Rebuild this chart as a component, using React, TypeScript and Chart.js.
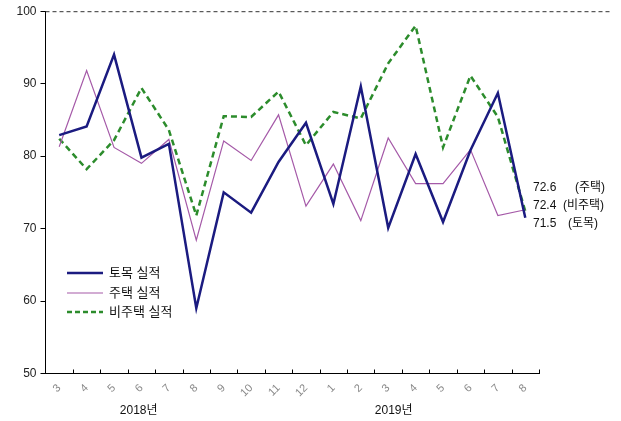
import React, { useEffect, useRef } from "react";
import { Chart, registerables } from "chart.js";

Chart.register(...registerables);

const categories = ["3", "4", "5", "6", "7", "8", "9", "10", "11", "12", "1", "2", "3", "4", "5", "6", "7", "8"];
const civil = [82.9, 84.1, 94.0, 79.8, 81.7, 59.0, 75.0, 72.2, 79.2, 84.6, 73.4, 89.6, 70.1, 80.3, 70.9, 80.8, 88.7, 71.5];
const housing = [81.3, 91.8, 81.2, 79.0, 82.3, 68.4, 82.1, 79.4, 85.7, 73.1, 78.9, 71.1, 82.5, 76.2, 76.2, 80.9, 71.8, 72.6];
const nonHousing = [82.4, 78.2, 82.2, 89.4, 83.6, 71.8, 85.5, 85.4, 88.9, 81.5, 86.1, 85.2, 92.8, 98.0, 81.2, 91.1, 85.4, 72.4];
const seriesNames = ["토목 실적", "주택 실적", "비주택 실적"];
const yearLabels = ["2018년", "2019년"];
const endValues = ["72.6", "72.4", "71.5"];
const endNames = ["(주택)", "(비주택)", "(토목)"];
const yTicks = [50, 60, 70, 80, 90, 100];

const FONT = "'Liberation Sans', 'Noto Sans CJK KR', sans-serif";
const COLORS = ["#1b1b80", "#a55aa8", "#2c8c2c"];

const overlay = {
  id: "overlay",
  afterDraw(chart: any) {
    const { ctx, chartArea } = chart;
    const x = chart.scales.x;
    const y = chart.scales.y;
    ctx.save();
    // dashed top line at 100
    const y100 = y.getPixelForValue(100);
    ctx.strokeStyle = "#333";
    ctx.lineWidth = 1;
    ctx.setLineDash([4, 3]);
    ctx.beginPath();
    ctx.moveTo(chartArea.left, y100 + 0.5);
    ctx.lineTo(612, y100 + 0.5);
    ctx.stroke();
    ctx.setLineDash([]);

    // inward x ticks at category boundaries
    const n = categories.length;
    const step = (chartArea.right - chartArea.left) / n;
    ctx.strokeStyle = "#000";
    ctx.beginPath();
    for (let i = 1; i <= n; i++) {
      const px = Math.round(x.getPixelForValue(i - 1) + step / 2) + 0.5;
      ctx.moveTo(px, chartArea.bottom);
      ctx.lineTo(px, chartArea.bottom - 4);
    }
    ctx.stroke();

    // legend
    const lx0 = 67, lx1 = 103;
    const ly = [273, 293, 312];
    ctx.font = `13px ${FONT}`;
    ctx.textBaseline = "middle";
    ctx.textAlign = "left";
    seriesNames.forEach((name, i) => {
      ctx.strokeStyle = COLORS[i];
      ctx.lineWidth = i === 1 ? 1.2 : 2.5;
      ctx.setLineDash(i === 2 ? [5, 3] : []);
      ctx.beginPath();
      ctx.moveTo(lx0, ly[i]);
      ctx.lineTo(lx1, ly[i]);
      ctx.stroke();
      ctx.setLineDash([]);
      ctx.fillStyle = "#111";
      ctx.fillText(name, 109, ly[i]);
    });

    // end labels
    ctx.font = `12px ${FONT}`;
    const ey = [188, 206, 224];
    const enx = [575, 563, 568];
    endValues.forEach((v, i) => {
      ctx.fillStyle = "#111";
      ctx.fillText(v, 533, ey[i]);
      ctx.fillText(endNames[i], enx[i], ey[i]);
    });

    // year labels
    ctx.textAlign = "center";
    ctx.font = `12px ${FONT}`;
    ctx.fillText(yearLabels[0], x.getPixelForValue(2.9), 411);
    ctx.fillText(yearLabels[1], x.getPixelForValue(12.2), 411);
    ctx.restore();
  },
};

export default function App() {
  const ref = useRef<HTMLCanvasElement>(null);
  useEffect(() => {
    document.body.style.margin = "0";
    if (!ref.current) return;
    const chart = new Chart(ref.current, {
      type: "line",
      data: {
        labels: categories,
        datasets: [
          {
            label: seriesNames[0],
            data: civil,
            borderColor: COLORS[0],
            borderWidth: 2.5,
            pointRadius: 0,
            tension: 0,
          },
          {
            label: seriesNames[1],
            data: housing,
            borderColor: COLORS[1],
            borderWidth: 1.2,
            pointRadius: 0,
            tension: 0,
          },
          {
            label: seriesNames[2],
            data: nonHousing,
            borderColor: COLORS[2],
            borderWidth: 2.5,
            borderDash: [6, 4],
            pointRadius: 0,
            tension: 0,
          },
        ],
      },
      options: {
        animation: false,
        responsive: true,
        maintainAspectRatio: false,
        layout: { padding: { top: 11, right: 82, left: 0, bottom: 0 } },
        plugins: { legend: { display: false }, tooltip: { enabled: false } },
        scales: {
          x: {
            offset: true,
            grid: { display: false },
            border: { display: true, color: "#000", width: 1 },
            ticks: {
              minRotation: 45,
              maxRotation: 45,
              color: "#888",
              font: { size: 11, family: FONT },
              padding: 0,
            },
            afterFit: (s: any) => {
              s.height = 47.5;
            },
          },
          y: {
            min: 50,
            max: 100,
            afterBuildTicks: (s: any) => {
              s.ticks = yTicks.map((v) => ({ value: v }));
            },
            grid: { drawOnChartArea: false, drawTicks: true, tickLength: 5, color: "#000" },
            border: { display: true, color: "#000", width: 1 },
            ticks: {
              color: "#222",
              font: { size: 12, family: FONT },
              padding: 4,
            },
            afterFit: (s: any) => {
              s.width = 45.5;
            },
          },
        },
      },
      plugins: [overlay],
    });
    return () => chart.destroy();
  }, []);
  return (
    <div style={{ width: 621, height: 421, position: "relative" }}>
      <canvas ref={ref} />
    </div>
  );
}
